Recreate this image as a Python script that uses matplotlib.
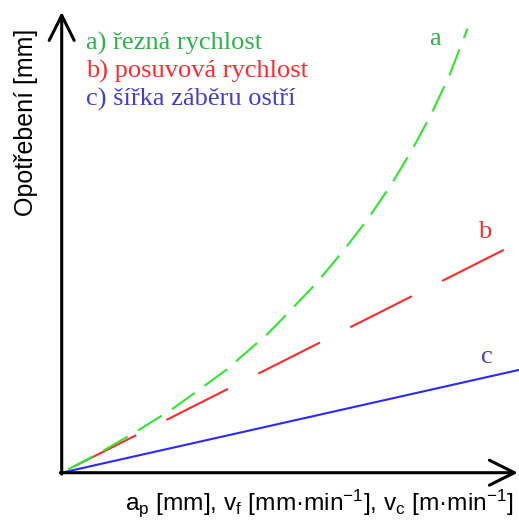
"""Tool wear vs. cutting parameters (schematic chart with arrow axes)."""
import matplotlib
matplotlib.use("Agg")
import matplotlib.pyplot as plt

# curve a) cutting speed (arbitrary units, axes span 0..100)
a_x = [0, 8.1, 16.6, 24.3, 31.3, 36.1, 45.1, 47.7, 55.4, 61.5, 67.0, 72.2, 76.8, 81.0, 84.9, 88.8]
a_y = [0, 4.2, 9.1, 13.9, 18.9, 22.4, 30.2, 32.8, 40.8, 48.0, 55.1, 62.7, 70.3, 78.1, 86.4, 96.4]
# curve b) feed speed
b_x = [0, 100]
b_y = [0, 50.0]
# curve c) width of cut
c_x = [0, 100]
c_y = [0, 22.3]

legend_texts = ["a) řezná rychlost", "b) posuvová rychlost", "c) šířka záběru ostří"]
curve_tags = ["a", "b", "c"]
ylabel = "Opotřebení [mm]"
xlabel = (r"a$_\mathrm{p}$ [mm], v$_\mathrm{f}$ [mm·min$^\mathrm{-1}$], "
          r"v$_\mathrm{c}$ [m·min$^\mathrm{-1}$]")

line_colors = ["#2ee82e", "#ff2a2a", "#2a2aff"]
text_colors = ["#2db34a", "#ff2b2b", "#4040d0"]

plt.rcParams["mathtext.fontset"] = "custom"
plt.rcParams["mathtext.rm"] = "Liberation Sans"
plt.rcParams["mathtext.it"] = "Liberation Sans"

fig = plt.figure(figsize=(5.19, 5.21), dpi=100)
ax = fig.add_axes([0.1189, 0.0927, 0.8805, 0.8843])
ax.set_xlim(0, 100)
ax.set_ylim(0, 100)
ax.axis("off")

# --- curves (dash lengths are in multiples of the line width) ---
ax.plot(c_x, c_y, color=line_colors[2], lw=1.5, clip_on=False, zorder=3)
ax.plot(b_x, b_y, color=line_colors[1], lw=1.5, ls=(42.5, (33.1, 16.3)), clip_on=False, zorder=3)
ax.plot(a_x, a_y, color=line_colors[0], lw=1.5, ls=(15.7, (13.4, 5.8)), clip_on=False, zorder=4)

# --- arrow axes ---
arrow = dict(arrowstyle="->,head_length=0.9,head_width=0.45", lw=2.2, color="black",
             mutation_scale=20, shrinkA=0, shrinkB=0)
ax.annotate("", xy=(99.8, 0), xytext=(-0.3, 0), arrowprops=arrow, annotation_clip=False)
ax.annotate("", xy=(0, 100), xytext=(0, -0.3), arrowprops=arrow, annotation_clip=False)

# --- legend-like texts ---
for txt, col, yy in zip(legend_texts, text_colors, [91.8, 85.7, 79.7]):
    ax.text(5.3, yy, txt, color=col, fontsize=19, family="Liberation Serif", va="baseline")

# --- curve tags ---
for tag, col, (tx, ty) in zip(curve_tags, text_colors, [(81.6, 94.2), (92.6, 52.3), (93.0, 25.2)]):
    ax.text(tx, ty, tag, color=col, fontsize=19, family="Liberation Serif", ha="center", va="center")

# --- axis labels ---
fig.text(0.05, 0.766, ylabel, rotation=90, fontsize=18, family="Liberation Sans",
         ha="center", va="center")
fig.text(0.615, 0.021, xlabel, fontsize=17.6, family="Liberation Sans", ha="center", va="baseline")

fig.savefig("out.png", dpi=100)
